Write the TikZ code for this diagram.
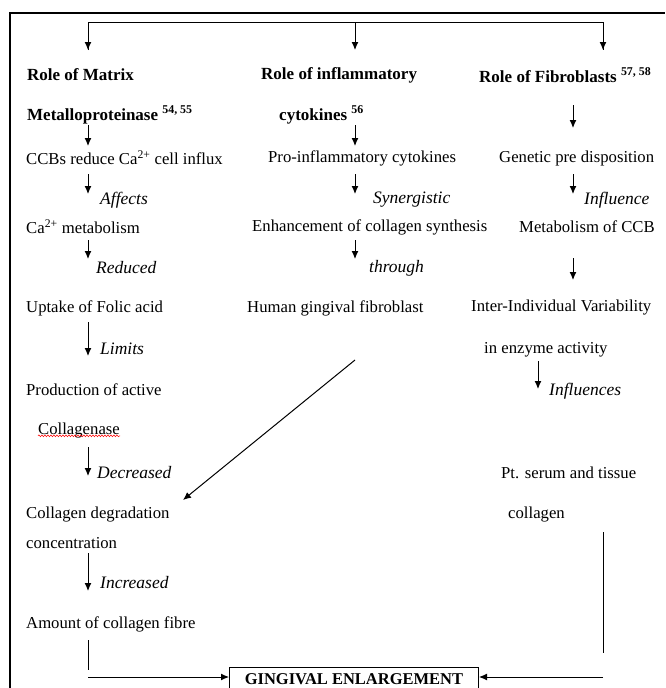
\documentclass[tikz,border=0pt]{standalone}
\usepackage{fontspec}
\setmainfont{Liberation Serif}
\usetikzlibrary{arrows.meta,decorations.pathmorphing}
\begin{document}
\begin{tikzpicture}[x=1pt,y=-1pt,
  txt/.style={anchor=west,inner sep=0pt,font=\fontsize{16.7}{19}\selectfont},
  hd/.style={anchor=west,inner sep=0pt,font=\fontsize{17}{19}\selectfont\bfseries},
  lbl/.style={anchor=west,inner sep=0pt,font=\fontsize{17.5}{19}\selectfont\itshape},
  arr/.style={-{Latex[length=8pt,width=7pt]},line width=1pt},
  ln/.style={line width=1pt},
  frame/.style={line width=2pt}]
\useasboundingbox (0,0) rectangle (665,688);
% outer frame
\draw[frame] (10,688) -- (10,13) -- (665,13);
% top distribution
\coordinate (t1) at (88,22);
\coordinate (t2) at (355,22);
\coordinate (t3) at (603,22);
\coordinate (d1) at (88,50);
\coordinate (d2) at (355,50);
\coordinate (d3) at (603,50);
\draw[ln] (d1) -- (t1) -- (t3) -- (d3);
\draw[arr] (t1) -- (d1);
\draw[arr] (t2) -- (d2);
\draw[arr] (t3) -- (d3);
% headings
\node[hd] (h1) at (27,75) {Role of Matrix};
\node[hd] (h2) at (261,75) {Role of inflammatory};
\node[hd] (h3) at (479,75) {Role of Fibroblasts \textsuperscript{57, 58}};
\node[hd] (h1b) at (27,115) {Metalloproteinase \textsuperscript{54, 55}};
\node[hd] (h2b) at (279,115) {cytokines \textsuperscript{56}};
% left column
\node[txt] (l1) at (26,158) {CCBs reduce Ca\textsuperscript{2+} cell influx};
\node[lbl] (la1) at (100,200) {Affects};
\node[txt] (l2) at (26,227) {Ca\textsuperscript{2+} metabolism};
\node[lbl] (la2) at (96,268) {Reduced};
\node[txt] (l3) at (26,308) {Uptake of Folic acid};
\node[lbl] (la3) at (100,349) {Limits};
\node[txt] (l4) at (26,390) {Production of active};
\node[txt] (l5) at (38,431) {Collagenase};
\node[lbl] (la4) at (97,473) {Decreased};
\node[txt] (l6) at (26,515) {Collagen degradation};
\node[txt] (l7) at (26,543) {concentration};
\node[lbl] (la5) at (100,583) {Increased};
\node[txt] (l8) at (26,624) {Amount of collagen fibre};
\draw[red,line width=0.5pt,decorate,decoration={snake,amplitude=0.9pt,segment length=3pt}]
  ([yshift=3pt]l5.south west) -- ([yshift=3pt]l5.south east);
% middle column
\node[txt] (m1) at (268,158) {Pro-inflammatory cytokines};
\node[lbl] (ma1) at (373,200) {Synergistic};
\node[txt] (m2) at (252,227) {Enhancement of collagen synthesis};
\node[lbl] (ma2) at (369,268) {through};
\node[txt] (m3) at (247,308) {Human gingival fibroblast};
% right column
\node[txt] (r1) at (499,158) {Genetic pre disposition};
\node[lbl] (ra1) at (584,200) {Influence};
\node[txt] (r2) at (519,227) {Metabolism of CCB};
\node[txt] (r3) at (471,308) {Inter-Individual Variability};
\node[txt] (r4) at (484,350) {in enzyme activity};
\node[lbl] (ra2) at (549,391) {Influences};
\node[txt] (r5) at (501,473) {Pt. serum and tissue};
\node[txt] (r6) at (508,515) {collagen};
% short arrows, left
\coordinate (a1s) at (88,125); \coordinate (a1e) at (88,146);
\coordinate (a2s) at (88,174); \coordinate (a2e) at (88,194);
\coordinate (a3s) at (88,240); \coordinate (a3e) at (88,259);
\coordinate (a4s) at (88,322); \coordinate (a4e) at (88,356);
\coordinate (a5s) at (88,447); \coordinate (a5e) at (88,476);
\coordinate (a6s) at (88,553); \coordinate (a6e) at (88,591);
\foreach \i in {1,...,6} {\draw[arr] (a\i s) -- (a\i e);}
% short arrows, middle
\coordinate (b1s) at (355,125); \coordinate (b1e) at (355,146);
\coordinate (b2s) at (355,174); \coordinate (b2e) at (355,194);
\coordinate (b3s) at (355,240); \coordinate (b3e) at (355,259);
\foreach \i in {1,...,3} {\draw[arr] (b\i s) -- (b\i e);}
% short arrows, right
\coordinate (c1s) at (573,105); \coordinate (c1e) at (573,128);
\coordinate (c2s) at (573,174); \coordinate (c2e) at (573,194);
\coordinate (c3s) at (573,258); \coordinate (c3e) at (573,280);
\coordinate (c4s) at (538,361); \coordinate (c4e) at (538,389);
\foreach \i in {1,...,4} {\draw[arr] (c\i s) -- (c\i e);}
% diagonal
\coordinate (dg1) at (355,360);
\coordinate (dg2) at (183,500);
\draw[arr] (dg1) -- (dg2);
% bottom box
\node[draw,line width=1pt,anchor=north west,minimum width=249pt,minimum height=24pt,
  inner sep=0pt,font=\fontsize{16.5}{18}\selectfont\bfseries] (ge) at (229,667) {GINGIVAL ENLARGEMENT};
\coordinate (lv1) at (88,640);
\coordinate (lv2) at (88,670);
\coordinate (lh) at (88,677);
\draw[ln] (lv1) -- (lv2);
\draw[arr] (lh) -- (ge.west |- lh);
\coordinate (rv1) at (603,532);
\coordinate (rv2) at (603,653);
\coordinate (rh) at (603,677);
\draw[ln] (rv1) -- (rv2);
\draw[arr] (rh) -- (ge.east |- rh);
\end{tikzpicture}
\end{document}
